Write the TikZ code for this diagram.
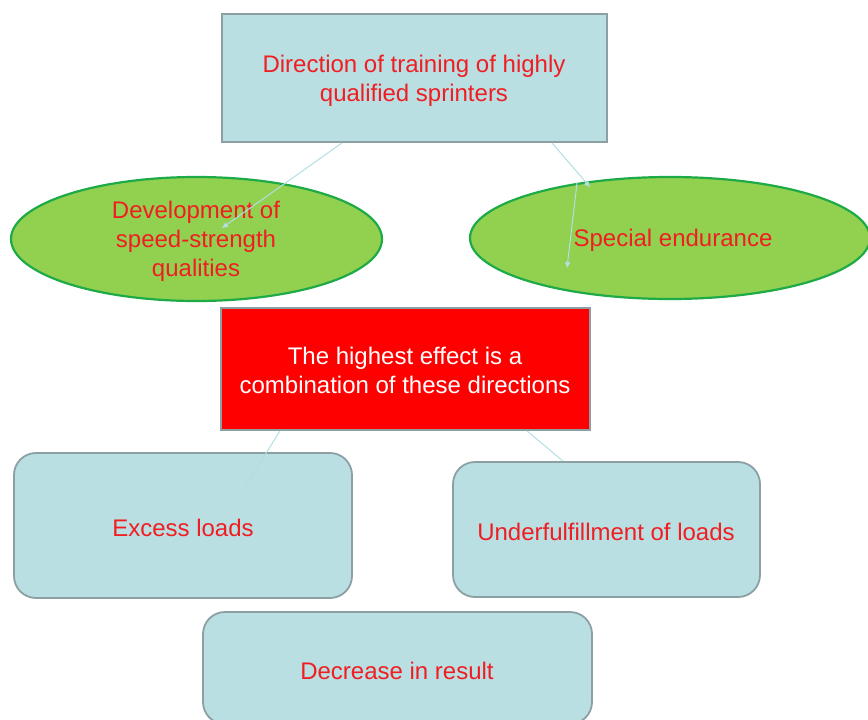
\documentclass[tikz,border=0pt]{standalone}
\usepackage{fontspec}
\setmainfont{Liberation Sans}
\usetikzlibrary{shapes.geometric,arrows.meta}
\definecolor{boxfill}{RGB}{185,223,226}
\definecolor{boxline}{RGB}{140,160,164}
\definecolor{ellfill}{RGB}{146,208,80}
\definecolor{ellline}{RGB}{30,170,70}
\definecolor{txtred}{RGB}{240,30,34}
\definecolor{conn}{RGB}{178,222,228}
\tikzset{
  lbl/.style={text=txtred, font=\fontsize{24}{29}\selectfont, align=center, yshift=-2.5pt},
  rbox/.style={draw=boxline, fill=boxfill, line width=1.8pt, rounded corners=22pt},
  ell/.style={draw=ellline, fill=ellfill, line width=2.2pt, ellipse, minimum width=#1},
  conline/.style={draw=conn, line width=1pt},
  conarrow/.style={conline, -{Triangle[length=6pt,width=5pt]}}
}
\begin{document}
\begin{tikzpicture}[x=1pt,y=-1pt]
\useasboundingbox (0,0) rectangle (868,720);
% shapes
\node[draw=boxline, fill=boxfill, line width=1.8pt, minimum width=385pt, minimum height=128pt] (top) at (414.5,78) {};
\node[lbl] at (414,78) {Direction of training of highly\\qualified sprinters};
\node[ell=371pt, minimum height=124pt] (le) at (196.5,239) {};
\node[lbl] at (196,239) {Development of\\speed-strength\\qualities};
\node[ell=400pt, minimum height=122pt] (re) at (670,238) {};
\node[lbl] at (673,238) {Special endurance};
\node[draw=boxline, fill=red, line width=1.8pt, minimum width=369pt, minimum height=122pt] (mid) at (405.5,369) {};
\node[lbl, text=white] at (405,367.5) {The highest effect is a\\combination of these directions};
\node[rbox, minimum width=338pt, minimum height=145pt] (ex) at (183,525.5) {};
\node[lbl] at (183,525) {Excess loads};
\node[rbox, minimum width=307pt, minimum height=135pt] (un) at (606.5,529.5) {};
\node[lbl] at (606,529) {Underfulfillment of loads};
\node[rbox, minimum width=389pt, minimum height=112pt] (de) at (397.5,668) {};
\node[lbl] at (397,668) {Decrease in result};
% connector endpoints
\coordinate (a1) at (342,0 |- top.south);
\coordinate (b1) at (222,228);
\coordinate (a2) at (552,0 |- top.south);
\coordinate (b2) at (590,187);
\coordinate (a3) at (577,183);
\coordinate (b3) at (567,268);
\coordinate (a4) at (280,0 |- mid.south);
\coordinate (b4) at (245,487);
\coordinate (a5) at (527,0 |- mid.south);
\coordinate (b5) at (563,0 |- un.north);
\draw[conarrow] (a1) -- (b1);
\draw[conarrow] (a2) -- (b2);
\draw[conarrow] (a3) -- (b3);
\draw[conline] (a4) -- (b4);
\draw[conline] (a5) -- (b5);
\end{tikzpicture}
\end{document}
